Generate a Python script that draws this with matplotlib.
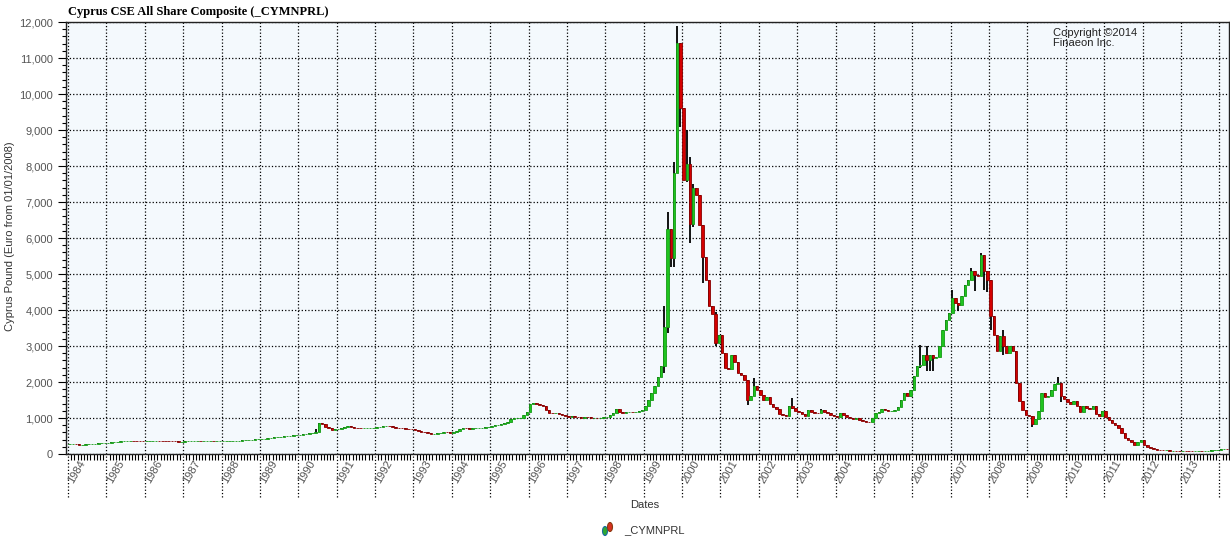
import pandas as pd
import matplotlib
matplotlib.use('Agg')
import matplotlib.pyplot as plt
import matplotlib.dates as mdates
from matplotlib.ticker import MultipleLocator, FuncFormatter, NullFormatter
from matplotlib.transforms import ScaledTranslation
from matplotlib.patches import Ellipse

# Monthly closes of the index, starting January 1984
first_month = '1984-01'
close = [
    265, 270, 268, 255, 262, 268, 275, 285, 290, 295, 305, 312,        # 1984
    318, 325, 335, 345, 350, 358, 368, 372, 370, 365, 362, 360,        # 1985
    360, 362, 365, 368, 366, 362, 360, 358, 355, 350, 340, 345,        # 1986
    348, 350, 350, 352, 352, 350, 350, 350, 352, 350, 350, 352,        # 1987
    352, 355, 358, 360, 365, 370, 378, 388, 392, 398, 405, 412,        # 1988
    418, 425, 440, 455, 460, 470, 485, 495, 500, 505, 515, 525,        # 1989
    535, 545, 560, 575, 590, 625, 860, 820, 760, 710, 680, 690,        # 1990
    700, 710, 755, 765, 740, 720, 715, 712, 712, 715, 715, 718,        # 1991
    740, 760, 775, 780, 770, 750, 735, 725, 715, 705, 695, 690,        # 1992
    670, 645, 620, 600, 575, 560, 560, 575, 595, 600, 598, 592,        # 1993
    610, 640, 690, 715, 710, 705, 710, 712, 715, 720, 740, 760,        # 1994
    775, 800, 810, 825, 860, 900, 960, 990, 1005, 1010, 1080, 1160,    # 1995
    1380, 1410, 1400, 1370, 1320, 1230, 1150, 1130, 1140, 1120, 1090, 1060,  # 1996
    1020, 1050, 1040, 1030, 1010, 1030, 1020, 1010, 1010, 1005, 1010, 1020,  # 1997
    1040, 1070, 1150, 1240, 1160, 1150, 1170, 1170, 1165, 1180, 1200, 1210,  # 1998
    1320, 1500, 1700, 1900, 2150, 2450, 3540, 6250, 5450, 7800, 11430, 9600,  # 1999
    7610, 8060, 6400, 7380, 7200, 6360, 5480, 4830, 4100, 3900, 3070, 3300,  # 2000
    2800, 2400, 2350, 2750, 2550, 2250, 2200, 2050, 1500, 1620, 1900, 1780,  # 2001
    1650, 1510, 1580, 1400, 1300, 1240, 1120, 1080, 1060, 1320, 1270, 1200,  # 2002
    1160, 1110, 1060, 1210, 1160, 1150, 1140, 1210, 1160, 1130, 1080, 1060,  # 2003
    1020, 1150, 1090, 1020, 990, 960, 990, 950, 920, 900, 880, 990,          # 2004
    1150, 1170, 1260, 1210, 1190, 1200, 1210, 1300, 1500, 1700, 1620, 1780,  # 2005
    2160, 2435, 2481, 2759, 2620, 2759, 2667, 2700, 2991, 3454, 3731, 3917,  # 2006
    4333, 4194, 4148, 4380, 4704, 4843, 5074, 4981, 4954, 5537, 5074, 4843,  # 2007
    3824, 3315, 2852, 3268, 3000, 2805, 2990, 2850, 1972, 1463, 1231, 1092,  # 2008
    1050, 820, 980, 1200, 1690, 1570, 1610, 1790, 1940, 1960, 1620, 1530,    # 2009
    1440, 1390, 1480, 1340, 1160, 1330, 1270, 1240, 1330, 1110, 1060, 1200,  # 2010
    1040, 945, 852, 805, 713, 574, 435, 389, 343, 250, 343, 389,             # 2011
    250, 204, 157, 130, 120, 110, 100, 105, 95, 95, 92, 90,                  # 2012
    95, 92, 88, 80, 85, 90, 88, 90, 95, 100, 110, 120,                       # 2013
    130, 140, 135,                                                           # 2014
]

# Months whose shadows reach past the body
wick_month = ['1990-06', '1999-07', '1999-08', '1999-09', '1999-10', '1999-11',
              '1999-12', '2000-02', '2000-03', '2000-04', '2000-07', '2000-11',
              '2001-09', '2001-11', '2002-11', '2003-08', '2006-03', '2006-05',
              '2006-06', '2006-07', '2007-01', '2007-03', '2007-07', '2007-08',
              '2007-10', '2007-11', '2007-12', '2008-01', '2008-05', '2009-02',
              '2009-10', '2009-11']
wick_low = [590, 2240, 3360, 5200, 5200, 7800, 9090, 7550, 5870, 6300, 4740, 3000,
            1360, 1620, 1260, 1150, 2400, 2296, 2296, 2296, 3917, 3963, 4843, 4518,
            4954, 4565, 4500, 3454, 2759, 750, 1940, 1450]
wick_high = [700, 4100, 6730, 6250, 8120, 11890, 11430, 9000, 8250, 7500, 6360, 3950,
             2050, 2100, 1550, 1250, 3037, 3009, 2759, 2759, 4565, 4194, 5167, 5074,
             5583, 5537, 5074, 4843, 3454, 1050, 2150, 1960]

year_labels = [str(y) for y in range(1984, 2014)]

plt.rcParams['font.family'] = 'Liberation Sans'

# Build open/high/low from the closes
months = pd.period_range(first_month, periods=len(close), freq='M')
x = mdates.date2num(months.to_timestamp() + pd.Timedelta(days=15))
opens = [close[0]] + close[:-1]
high = [max(o, c) for o, c in zip(opens, close)]
low = [min(o, c) for o, c in zip(opens, close)]
idx = {str(p): i for i, p in enumerate(months)}
for m, lo, hi in zip(wick_month, wick_low, wick_high):
    i = idx[m]
    low[i] = min(low[i], lo)
    high[i] = max(high[i], hi)

fig = plt.figure(figsize=(12.3, 5.54), dpi=100)
ax = fig.add_axes([66 / 1230, 1 - 454 / 554, 1163 / 1230, 432 / 554])
ax.set_facecolor('#f4f9fd')

# Candles
up = [c >= o for o, c in zip(opens, close)]
ax.vlines(x, low, high, color='black', linewidth=1.3, zorder=2)
ax.bar(x, [abs(c - o) for o, c in zip(opens, close)],
       bottom=[min(o, c) for o, c in zip(opens, close)], width=24,
       color=['#1fc41f' if u else '#d40000' for u in up],
       edgecolor=['#169a16' if u else '#8a0000' for u in up],
       linewidth=0.6, zorder=3)

# Axes, ticks and grid
ax.set_ylim(0, 12000)
ax.set_xlim(mdates.date2num(pd.Timestamp('1983-12-13')),
            mdates.date2num(pd.Timestamp('2014-04-03')))
ax.yaxis.set_major_locator(MultipleLocator(1000))
ax.yaxis.set_minor_locator(MultipleLocator(200))
ax.yaxis.set_major_formatter(FuncFormatter(lambda v, p: f'{v:,.0f}'))

year_ticks = mdates.date2num(pd.to_datetime([f'{y}-01-01' for y in range(1984, 2015)]))
ax.set_xticks(year_ticks)
ax.xaxis.set_major_formatter(NullFormatter())
ax.xaxis.set_minor_locator(mdates.MonthLocator())

# year labels sit to the right of each year line, slanted upward
lab_tr = ax.get_xaxis_transform() + ScaledTranslation(0.15, -0.07, fig.dpi_scale_trans)
for t, lab in zip(year_ticks, year_labels):
    ax.text(t, 0, lab, transform=lab_tr, rotation=60, rotation_mode='anchor',
            ha='right', va='center', fontsize=8, color='#555555', clip_on=False)

ax.tick_params(axis='x', which='major', length=0)
ax.tick_params(axis='x', which='minor', length=4, width=0.8)
ax.tick_params(axis='y', which='major', length=6, labelsize=8, labelcolor='#555555')
ax.tick_params(axis='y', which='minor', length=3, width=0.8)

ax.grid(True, which='major', color='black', linestyle=':', linewidth=0.9)
ax.set_axisbelow(True)
# year lines carried below the axis
ax.vlines(year_ticks, -0.1, 0, transform=ax.get_xaxis_transform(), clip_on=False,
          colors='black', linestyles=':', linewidth=0.9)

for s in ax.spines.values():
    s.set_color('#222222')
    s.set_linewidth(1.0)

# Texts
fig.text(68 / 1230, 1 - 12 / 554, 'Cyprus CSE All Share Composite (_CYMNPRL)',
         family='Liberation Serif', weight='bold', fontsize=9, va='center', ha='left')
fig.text(1053 / 1230, 1 - 28 / 554, 'Copyright \u00a92014\nFinaeon Inc.',
         fontsize=8, color='#222222', va='top', ha='left', linespacing=0.95)
fig.text(10 / 1230, 1 - 236 / 554, 'Cyprus Pound (Euro from 01/01/2008)',
         fontsize=8, color='#333333', rotation=90, va='center', ha='center')
fig.text(645 / 1230, 1 - 505 / 554, 'Dates', fontsize=8, color='#333333',
         va='center', ha='center')

# Legend
fig.add_artist(Ellipse((605 / 1230, 1 - 531 / 554), 5 / 1230, 9 / 554,
                       transform=fig.transFigure, facecolor='#2eaa2e', edgecolor='#1a6aa0', lw=0.8))
fig.add_artist(Ellipse((610 / 1230, 1 - 527 / 554), 5 / 1230, 9 / 554,
                       transform=fig.transFigure, facecolor='#d83020', edgecolor='#8a3a10', lw=0.8))
fig.text(624 / 1230, 1 - 530 / 554, '_CYMNPRL', fontsize=8, color='#333333',
         va='center', ha='left')

fig.savefig('out.png', dpi=100)
